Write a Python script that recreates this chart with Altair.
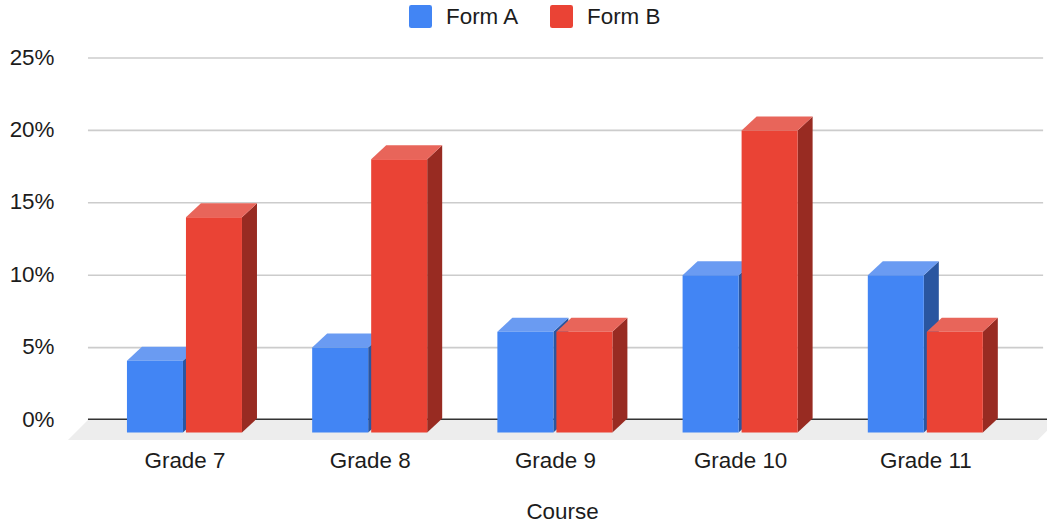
import json
import altair as alt
import pandas as pd

# Chart values
courses = ["Grade 7", "Grade 8", "Grade 9", "Grade 10", "Grade 11"]
form_a = [4.1, 5, 6.1, 10, 10]
form_b = [14, 18, 6.1, 20, 6.1]
y_ticks = [0, 5, 10, 15, 20, 25]

BLUE, BLUE_TOP, BLUE_SIDE = "#4285F4", "#6A9BF2", "#2A56A0"
RED, RED_TOP, RED_SIDE = "#EA4335", "#E8655A", "#982B22"
TEXT = "#1c1c1c"
FONT = "Liberation Sans"
FONT_SIZE = 22.4

# Plot frame and the shape of the pseudo-3D boxes, in data units
X_MIN, X_MAX = -0.672, 4.657
Y_MIN, Y_MAX = -1.381, 25
BAR_W = 0.3024
GAP = 0.0081
DEPTH_X = 0.081
DEPTH_Y = 0.967
BASE = -0.863
FLOOR_L, FLOOR_R = -0.629, 4.607
FLOOR_DX = 0.108
GRID_L, GRID_R = -0.521, 4.636


def box_tables(values, left_of_center):
    fronts, tops, sides = [], [], []
    for i, (course, v) in enumerate(zip(courses, values)):
        x0 = i - GAP - BAR_W if left_of_center else i + GAP
        x1 = x0 + BAR_W
        fronts.append({"x": x0, "x2": x1, "y": BASE, "y2": v})
        tops += [
            {"k": course, "x": x0, "y": v, "y2": v},
            {"k": course, "x": x0 + DEPTH_X, "y": v, "y2": v + DEPTH_Y},
            {"k": course, "x": x1, "y": v, "y2": v + DEPTH_Y},
            {"k": course, "x": x1 + DEPTH_X, "y": v + DEPTH_Y, "y2": v + DEPTH_Y},
        ]
        sides += [
            {"k": course, "x": x1, "y": BASE, "y2": v},
            {"k": course, "x": x1 + DEPTH_X, "y": BASE + DEPTH_Y, "y2": v + DEPTH_Y},
        ]
    return pd.DataFrame(fronts), pd.DataFrame(tops), pd.DataFrame(sides)


x_scale = alt.Scale(domain=[X_MIN, X_MAX], nice=False, zero=False)
y_scale = alt.Scale(domain=[Y_MIN, Y_MAX], nice=False, zero=False)
color_scale = alt.Scale(domain=["Form A", "Form B"], range=[BLUE, RED])

# Every layer shares the same position channels and axes
x_enc = alt.X(
    "x:Q",
    scale=x_scale,
    title="Course",
    axis=alt.Axis(
        values=list(range(len(courses))),
        labelExpr=f"{json.dumps(courses)}[datum.value]",
        domain=False,
        ticks=False,
        grid=False,
        labelPadding=9,
        labelFont=FONT,
        labelFontSize=FONT_SIZE,
        labelColor=TEXT,
        labelFlush=False,
        labelOverlap=False,
        titleFont=FONT,
        titleFontSize=FONT_SIZE,
        titleFontWeight="normal",
        titleColor=TEXT,
        titleX=502,
        titlePadding=29,
    ),
)
y_enc = alt.Y(
    "y:Q",
    scale=y_scale,
    title=None,
    axis=alt.Axis(
        values=y_ticks,
        labelExpr="datum.value + '%'",
        domain=False,
        ticks=False,
        grid=False,
        labelPadding=6,
        labelOffset=-1,
        labelFont=FONT,
        labelFontSize=FONT_SIZE,
        labelColor=TEXT,
        labelFlush=False,
        labelOverlap=False,
    ),
)
y2_enc = alt.Y2("y2:Q")

# Floor under the bars
floor = pd.DataFrame([
    {"x": FLOOR_L, "y": Y_MIN, "y2": Y_MIN},
    {"x": FLOOR_L + FLOOR_DX, "y": 0, "y2": Y_MIN},
    {"x": FLOOR_R, "y": 0, "y2": Y_MIN},
    {"x": FLOOR_R + FLOOR_DX, "y": 0, "y2": 0},
])
floor_layer = alt.Chart(floor).mark_area(color="#EDEDED", clip=True).encode(
    x=x_enc, y=y_enc, y2=y2_enc
)

# Horizontal gridlines and the zero line
grid = pd.DataFrame({"y": [t for t in y_ticks if t > 0]})
grid["x"] = GRID_L
grid["x2"] = GRID_R
grid_layer = alt.Chart(grid).mark_rule(color="#CCCCCC", strokeWidth=1.6).encode(
    x=x_enc, x2="x2:Q", y=y_enc
)
zero = pd.DataFrame({"y": [0.05], "x": [GRID_L], "x2": [X_MAX]})
zero_layer = alt.Chart(zero).mark_rule(color="#333333", strokeWidth=1.6).encode(
    x=x_enc, x2="x2:Q", y=y_enc
)


def box_layers(values, left_of_center, name, top_color, side_color):
    fronts, tops, sides = box_tables(values, left_of_center)
    fronts["form"] = name
    side_layer = alt.Chart(sides).mark_area(color=side_color).encode(
        x=x_enc, y=y_enc, y2=y2_enc, detail="k:N"
    )
    top_layer = alt.Chart(tops).mark_area(color=top_color).encode(
        x=x_enc, y=y_enc, y2=y2_enc, detail="k:N"
    )
    front_layer = alt.Chart(fronts).mark_rect().encode(
        x=x_enc,
        x2="x2:Q",
        y=y_enc,
        y2=y2_enc,
        color=alt.Color("form:N", scale=color_scale, title=None),
    )
    return [side_layer, top_layer, front_layer]


layers = (
    [floor_layer, grid_layer, zero_layer]
    + box_layers(form_a, True, "Form A", BLUE_TOP, BLUE_SIDE)
    + box_layers(form_b, False, "Form B", RED_TOP, RED_SIDE)
)

# Rounded swatch outline for the legend
swatch = (
    "M-0.8,-1 L0.8,-1 Q1,-1 1,-0.8 L1,0.8 Q1,1 0.8,1 "
    "L-0.8,1 Q-1,1 -1,0.8 L-1,-0.8 Q-1,-1 -0.8,-1 Z"
)

chart = (
    alt.layer(*layers)
    .properties(
        width=987,
        height=382,
        padding={"left": 60, "top": 58, "right": 0, "bottom": 82},
        autosize=alt.AutoSizeParams(type="none"),
    )
    .configure_view(stroke=None)
    .configure_legend(
        orient="none",
        legendX=349,
        legendY=-53,
        direction="horizontal",
        columns=2,
        columnPadding=30,
        symbolType=swatch,
        symbolSize=529,
        symbolStrokeWidth=0,
        labelFont=FONT,
        labelFontSize=FONT_SIZE,
        labelColor=TEXT,
        labelOffset=14,
        padding=0,
    )
)

chart.save("out.html", embed_options={"renderer": "svg", "actions": False})
